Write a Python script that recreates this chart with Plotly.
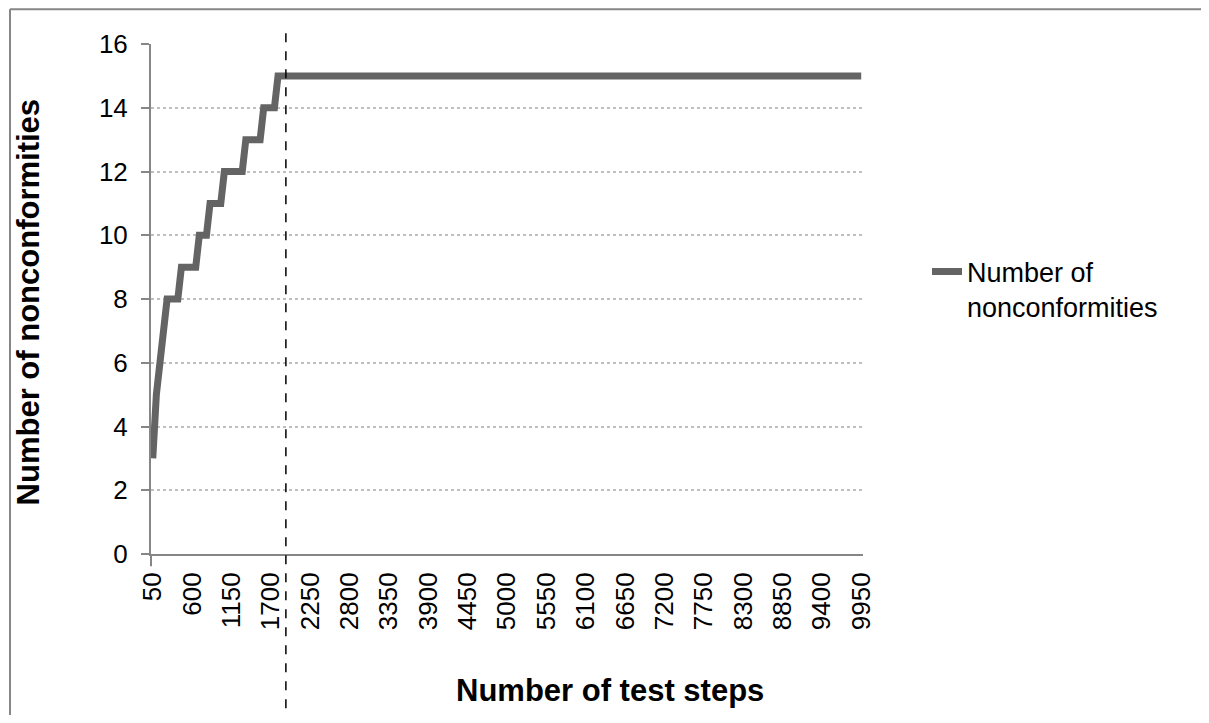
import plotly.graph_objects as go

# Data
test_steps = [50, 100, 150, 200, 250, 400, 450, 650, 700, 800, 850, 1000,
              1050, 1300, 1350, 1550, 1600, 1750, 1800, 9950]
nonconformities = [3, 5, 6, 7, 8, 8, 9, 9, 10, 10, 11, 11,
                   12, 12, 13, 13, 14, 14, 15, 15]
x_tick_labels = [50, 600, 1150, 1700, 2250, 2800, 3350, 3900, 4450, 5000,
                 5550, 6100, 6650, 7200, 7750, 8300, 8850, 9400, 9950]
y_tick_labels = [0, 2, 4, 6, 8, 10, 12, 14, 16]
marker_step = 1910
series_name = "Number of<br>nonconformities"

FONT = "Liberation Sans, Arial, sans-serif"
AXIS_GRAY = "#868686"

# the page body has an 8px margin: work in page pixels, convert to figure pixels
OFF = 8
W, H = 1209 - OFF, 723 - 2 * OFF
L, R, T, B = 151 - OFF, 863 - OFF, 43.5 - OFF, 553.7 - OFF
pw, ph = R - L, B - T


def px_x(p):  # page x -> paper fraction
    return (p - OFF - L) / pw


def px_y(p):  # page y -> paper fraction
    return (B - (p - OFF)) / ph


fig = go.Figure()
fig.add_trace(go.Scatter(
    x=test_steps, y=nonconformities, mode="lines",
    name=series_name,
    line=dict(color="#646464", width=7),
    showlegend=True,
))

fig.update_layout(
    width=W, height=H,
    margin=dict(l=L, r=W - R, t=T, b=H - B, pad=0),
    paper_bgcolor="white", plot_bgcolor="white",
    font=dict(family=FONT, color="black", size=26),
    xaxis=dict(
        range=[25, 9975], tickmode="array", tickvals=x_tick_labels,
        ticktext=[str(v) for v in x_tick_labels],
        tickangle=-90, showgrid=False, zeroline=False,
        showline=True, linecolor=AXIS_GRAY, linewidth=2,
        ticks="", ticklabelstandoff=6,
        tickfont=dict(family=FONT, size=26, color="black"),
    ),
    yaxis=dict(
        range=[0, 16], tickmode="array", tickvals=y_tick_labels,
        showgrid=True, gridcolor="#BFBFBF", gridwidth=1.5, griddash="dot",
        zeroline=False, showline=True, linecolor=AXIS_GRAY, linewidth=2,
        ticks="outside", ticklen=8, tickwidth=2, tickcolor=AXIS_GRAY,
        ticklabelstandoff=8,
        tickfont=dict(family=FONT, size=26, color="black"),
    ),
    legend=dict(
        x=px_x(927), y=px_y(289), xanchor="left", yanchor="middle",
        valign="top", font=dict(family=FONT, size=27, color="black"),
        bgcolor="rgba(0,0,0,0)", itemwidth=30, tracegroupgap=0,
    ),
    shapes=[
        # chart-area border: only its top and left edges are inside the view
        dict(type="line", xref="paper", yref="paper",
             x0=px_x(10), x1=px_x(1220), y0=px_y(8.8), y1=px_y(8.8),
             line=dict(color=AXIS_GRAY, width=2), layer="below"),
        dict(type="line", xref="paper", yref="paper",
             x0=px_x(10), x1=px_x(10), y0=px_y(8.8), y1=px_y(740),
             line=dict(color=AXIS_GRAY, width=2), layer="below"),
        dict(type="line", xref="x", yref="paper",
             x0=marker_step, x1=marker_step, y0=px_y(708), y1=px_y(27),
             line=dict(color="black", width=1.5, dash="dash")),
        dict(type="line", xref="paper", yref="paper",
             x0=0, x1=0, y0=px_y(566), y1=0,
             line=dict(color=AXIS_GRAY, width=2)),
    ],
    annotations=[
        dict(text="<b>Number of test steps</b>", xref="paper", yref="paper",
             x=px_x(610), y=px_y(690), showarrow=False,
             xanchor="center", yanchor="middle",
             font=dict(family=FONT, size=31, color="black")),
        dict(text="<b>Number of nonconformities</b>", xref="paper", yref="paper",
             x=px_x(28), y=px_y(302), showarrow=False, textangle=-90,
             xanchor="center", yanchor="middle",
             font=dict(family=FONT, size=31, color="black")),
    ],
)

fig.write_html("out.html")
